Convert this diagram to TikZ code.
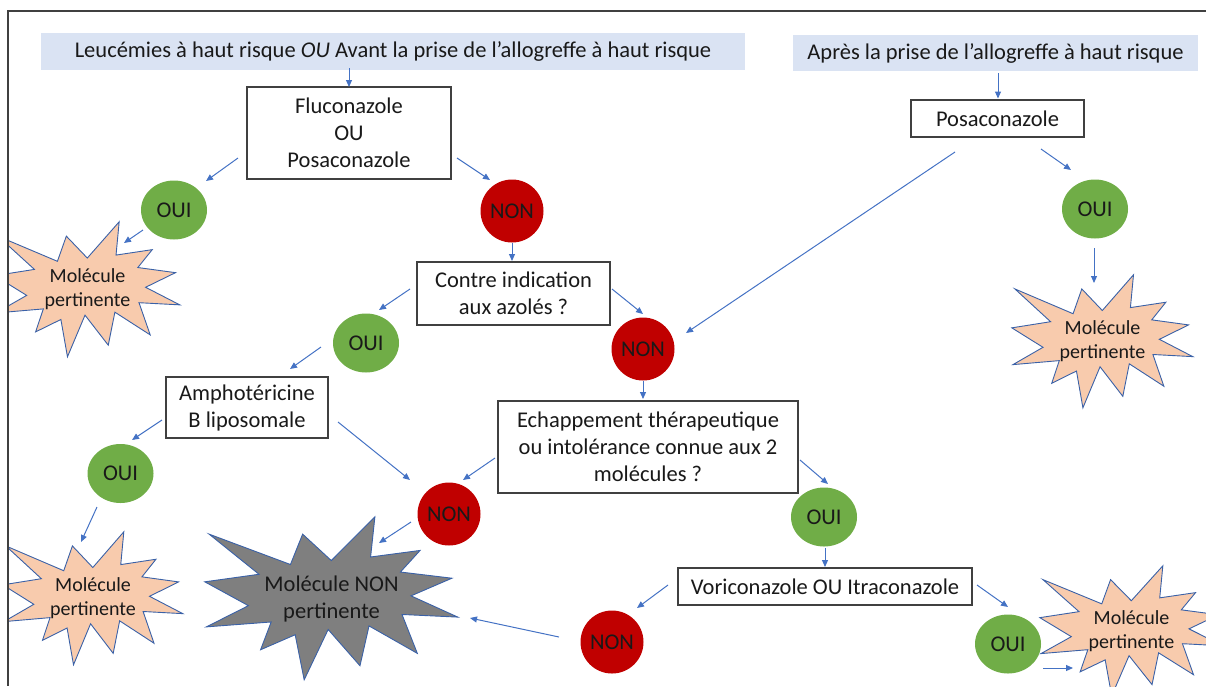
\documentclass[tikz,border=0pt]{standalone}
\usepackage{fontspec}
\setmainfont{Carlito}
\usepackage{tikz}
\usetikzlibrary{arrows.meta, shapes.geometric, backgrounds}

\definecolor{headblue}{HTML}{DAE3F3}
\definecolor{arrblue}{HTML}{4472C4}
\definecolor{ouigreen}{HTML}{70AD47}
\definecolor{nonred}{HTML}{C00000}
\definecolor{peach}{HTML}{F8CBAD}
\definecolor{darkgray}{HTML}{7F7F7F}
\definecolor{boxline}{HTML}{404040}

\tikzset{
  >={Triangle[length=7pt,width=6pt]},
  every node/.style={font=\fontsize{22.5}{27}\selectfont, text=black!90},
  arr/.style={->, draw=arrblue, line width=1pt},
  box/.style={draw=boxline, line width=1.2pt, fill=white, align=center, inner sep=0pt},
  head/.style={fill=headblue, inner sep=0pt},
  oui/.style={ellipse, fill=ouigreen, minimum width=66pt, minimum height=59pt, inner sep=0pt},
  non/.style={circle, fill=nonred, minimum size=63pt, inner sep=0pt},
  seal/.style 2 args={minimum width=#1pt, minimum height=#2pt, inner sep=0pt, align=center,
    font=\fontsize{20}{24}\selectfont},
  sealline/.style={line width=0.9pt, draw=arrblue!85!black}
}

% explosion drawn behind a named node: name, width, height, fill
\newcommand{\sealshape}[4]{%
  \begin{pgfonlayer}{background}
  \begin{scope}
  \clip (8,11) rectangle (1206,686);
  \draw[sealline, fill=#4, shift={(#1.north west)}, xscale=#2/100, yscale=#3/100]
    (50,26.85) -- (67.23,0) -- (65.53,24.65) -- (85.09,20.63) -- (77.32,33.87)
    -- (97.67,37.67) -- (81.51,48.50) -- (100,61.53) -- (77.95,59.92) -- (84.00,83.77)
    -- (64.91,66.93) -- (61.33,91.38) -- (48.76,69.14) -- (39.28,100) -- (35.72,72.35)
    -- (22.05,81.56) -- (26.24,64.52) -- (0.63,67.53) -- (17.23,54.51) -- (0,39.88)
    -- (21.42,35.26) -- (1.71,10.63) -- (33.85,29.26) -- (38.67,10.63) -- cycle;
  \end{scope}
  \end{pgfonlayer}}

\begin{document}
\begin{tikzpicture}[x=1pt, y=-1pt]

\useasboundingbox (0,0) rectangle (1206,686);

\begin{scope}
\clip (8,11) rectangle (1206,686);

% en-tetes
\node[head, minimum width=704pt, minimum height=37pt] (head1) at (393,51.5)
  {Leucémies à haut risque \textit{OU} Avant la prise de l’allogreffe à haut risque};
\node[head, minimum width=405pt, minimum height=36pt] (head2) at (995.5,53)
  {Après la prise de l’allogreffe à haut risque};

% boites
\node[box, minimum width=204pt, minimum height=92pt] (fluco) at (349,133) {Fluconazole\\OU\\Posaconazole};
\node[box, minimum width=173pt, minimum height=37pt] (posa) at (997.5,118.5) {Posaconazole};
\node[box, minimum width=193pt, minimum height=63pt] (contre) at (513.5,293.5) {Contre indication\\aux azolés ?};
\node[box, minimum width=162pt, minimum height=61pt] (ampho) at (247,407.5) {Amphotéricine\\B liposomale};
\node[box, minimum width=300pt, minimum height=92pt] (echap) at (648,447) {Echappement thérapeutique\\ou intolérance connue aux 2\\molécules ?};
\node[box, minimum width=294pt, minimum height=37pt] (vori) at (825,586.5) {Voriconazole OU Itraconazole};

% OUI / NON
\node[oui] (oui1) at (174,210) {OUI};
\node[non] (non1) at (512,211) {NON};
\node[oui] (oui2) at (366,343) {OUI};
\node[non] (non2) at (643,349) {NON};
\node[oui] (ouiR) at (1095,209) {OUI};
\node[oui] (oui3) at (120.5,473.5) {OUI};
\node[non] (non3) at (449,514) {NON};
\node[oui] (oui4) at (824,517) {OUI};
\node[non] (non4) at (612,642) {NON};
\node[oui] (oui5) at (1008,644) {OUI};

% etoiles
\node[seal={185}{135}] (star1) at (87.5,289.5) {Molécule\\pertinente};
\node[seal={181}{133}] (starR) at (1102.5,341.5) {Molécule\\pertinente};
\node[seal={180}{133}] (starBL) at (93,598.5) {Molécule\\pertinente};
\node[seal={183}{130}] (starBR) at (1131.5,631) {Molécule\\pertinente};
\node[seal={253}{163}, font=\fontsize{22.5}{27}\selectfont] (gray) at (331.5,598.5) {Molécule NON\\pertinente};
\sealshape{star1}{185}{135}{peach}
\sealshape{starR}{181}{133}{peach}
\sealshape{starBL}{180}{133}{peach}
\sealshape{starBR}{183}{130}{peach}
\sealshape{gray}{253}{163}{darkgray}

% fleches
\draw[arr] ([shift={(-44,16.5)}]head1.center) -- ([shift={(0,-46)}]fluco.center);
\draw[arr] ([shift={(2.5,20)}]head2.center) -- ([shift={(0.5,-20)}]posa.center);
\draw[arr] ([shift={(-111,25)}]fluco.center) -- ([shift={(32,-29)}]oui1.center);
\draw[arr] ([shift={(108,25)}]fluco.center) -- ([shift={(-22,-31)}]non1.center);
\draw[arr] ([shift={(-31,20)}]oui1.center) -- ([shift={(36.5,-46.5)}]star1.center);
\draw[arr] ([shift={(0,32)}]non1.center) -- ([shift={(-1.5,-32.5)}]contre.center);
\draw[arr] ([shift={(-103.5,-4.5)}]contre.center) -- ([shift={(13,-33)}]oui2.center);
\draw[arr] ([shift={(98.5,-4.5)}]contre.center) -- ([shift={(0,-35)}]non2.center);
\draw[arr] ([shift={(-45,4)}]oui2.center) -- ([shift={(43,-38.5)}]ampho.center);
\draw[arr] ([shift={(-42.5,33.5)}]posa.center) -- ([shift={(43,-16)}]non2.center);
\draw[arr] ([shift={(43.5,30.5)}]posa.center) -- ([shift={(-24,-39)}]ouiR.center);
\draw[arr] ([shift={(-1,39)}]ouiR.center) -- ([shift={(-8.5,-58.5)}]starR.center);
\draw[arr] ([shift={(0,32)}]non2.center) -- ([shift={(-5,-48)}]echap.center);
\draw[arr] ([shift={(-85,12.5)}]ampho.center) -- ([shift={(11.5,-33.5)}]oui3.center);
\draw[arr] ([shift={(91,14.5)}]ampho.center) -- ([shift={(-39,-34)}]non3.center);
\draw[arr] ([shift={(-153,11)}]echap.center) -- ([shift={(14,-34)}]non3.center);
\draw[arr] ([shift={(152,13)}]echap.center) -- ([shift={(4,-33)}]oui4.center);
\draw[arr] ([shift={(-23.5,33.5)}]oui3.center) -- ([shift={(-12,-56.5)}]starBL.center);
\draw[arr] ([shift={(-38,8)}]non3.center) -- ([shift={(47.5,-55.5)}]gray.center);
\draw[arr] ([shift={(1,31)}]oui4.center) -- ([shift={(0,-19.5)}]vori.center);
\draw[arr] ([shift={(-157,-1.5)}]vori.center) -- ([shift={(25,-34)}]non4.center);
\draw[arr] ([shift={(-53,-5)}]non4.center) -- ([shift={(138.5,19.5)}]gray.center);
\draw[arr] ([shift={(152,-1.5)}]vori.center) -- ([shift={(0,-37)}]oui5.center);
\draw[arr] ([shift={(35,24)}]oui5.center) -- ([shift={(-58.5,37)}]starBR.center);
\end{scope}

% cadre
\draw[boxline, line width=1.5pt] (1206,11) -- (8,11) -- (8,686);

\end{tikzpicture}
\end{document}
